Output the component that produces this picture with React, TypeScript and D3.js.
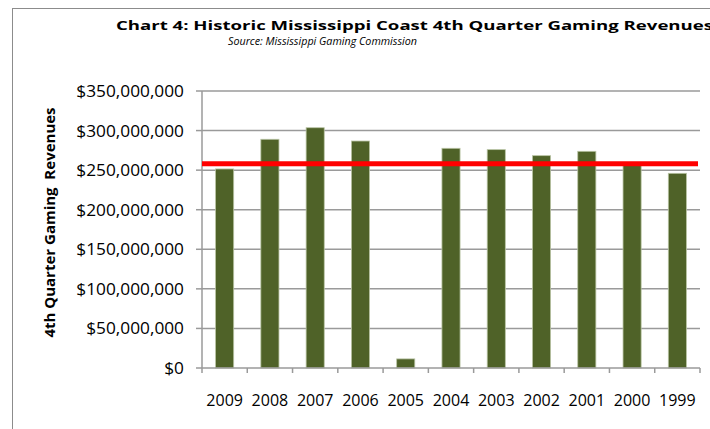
import React from "react";
import * as d3 from "d3";

const years = ["2009", "2008", "2007", "2006", "2005", "2004", "2003", "2002", "2001", "2000", "1999"];
const revenues = [251.5, 289, 303.6, 286.8, 11.5, 277.6, 275.9, 268.3, 273.8, 258, 246].map((v) => v * 1e6);
const referenceValue = 258e6;
const yTicks = [0, 50e6, 100e6, 150e6, 200e6, 250e6, 300e6, 350e6];
const titleText = "Chart 4: Historic Mississippi Coast 4th Quarter Gaming Revenues";
const subtitleText = "Source: Mississippi Gaming Commission";
const yTitle = "4th Quarter Gaming  Revenues";

const W = 710;
const H = 429;
const left = 202;
const right = 700;
const top = 91;
const bottom = 368;

export default function App() {
  const x = d3.scaleBand<string>().domain(years).range([left, right]).paddingInner(0.6).paddingOuter(0.3);
  const y = d3.scaleLinear().domain([0, 350e6]).range([bottom, top]);
  const step = x.step();
  const fmt = (v: number) => "$" + d3.format(",")(v);
  const font = "'Open Sans', sans-serif";
  const gridColor = "#9a9a9a";

  return (
    <svg width={W} height={H} style={{ position: "absolute", left: 0, top: 0, background: "#fff" }}>
      <rect x={0} y={0} width={W} height={H} fill="#fff" />
      <rect x={12.5} y={8.5} width={W + 20} height={H + 20} fill="none" stroke="#8c8c8c" strokeWidth={1} />
      <text x={116} y={29.5} fontFamily={font} fontWeight="bold" fontSize={13} textLength={597} lengthAdjust="spacingAndGlyphs" fill="#000">
        {titleText}
      </text>
      <text x={228} y={44.5} fontFamily={font} fontStyle="italic" fontSize={10.5} textLength={189} lengthAdjust="spacingAndGlyphs" fill="#000">
        {subtitleText}
      </text>
      {yTicks.map((t) => (
        <g key={t}>
          {t > 0 && <line x1={left} x2={right} y1={y(t)} y2={y(t)} stroke={gridColor} strokeWidth={1.5} />}
          <line x1={left - 6} x2={left} y1={y(t)} y2={y(t)} stroke={gridColor} strokeWidth={1.5} />
          <text
            transform={`translate(184, ${y(t) + 6}) scale(1.08, 1)`}
            textAnchor="end"
            fontFamily={font}
            fontSize={16}
            fill="#000"
          >
            {fmt(t)}
          </text>
        </g>
      ))}
      {years.map((yr, i) => (
        <rect
          key={yr}
          x={x(yr)!}
          y={y(revenues[i])}
          width={x.bandwidth()}
          height={bottom - y(revenues[i])}
          fill="#4f6228"
          stroke="#b9c4a4"
          strokeWidth={0.8}
        />
      ))}
      <line x1={left} x2={left} y1={top} y2={bottom} stroke={gridColor} strokeWidth={1.5} />
      <line x1={left} x2={right} y1={bottom} y2={bottom} stroke={gridColor} strokeWidth={1.5} />
      {d3.range(years.length + 1).map((i) => (
        <line key={i} x1={left + i * step} x2={left + i * step} y1={bottom} y2={bottom + 5} stroke={gridColor} strokeWidth={1.5} />
      ))}
      {years.map((yr) => (
        <text key={yr} x={x(yr)! + x.bandwidth() / 2} y={406} textAnchor="middle" fontFamily={font} fontSize={16} fill="#000">
          {yr}
        </text>
      ))}
      <line x1={left} x2={698} y1={y(referenceValue)} y2={y(referenceValue)} stroke="#ff0000" strokeWidth={5} />
      <text
        transform={`translate(55, 222.5) rotate(-90)`}
        textAnchor="middle"
        fontFamily={font}
        fontWeight="bold"
        fontSize={15}
        fill="#000"
        style={{ whiteSpace: "pre" }}
      >
        {yTitle}
      </text>
    </svg>
  );
}
